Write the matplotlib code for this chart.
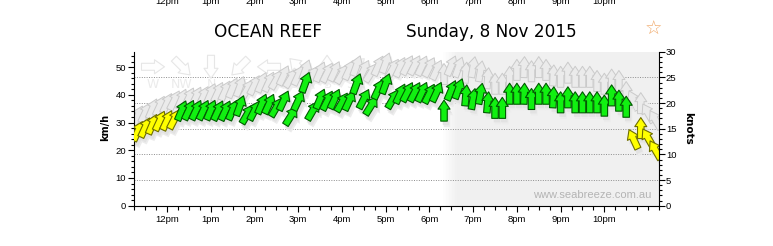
import numpy as np
import matplotlib
matplotlib.use('Agg')
from matplotlib import pyplot as plt
from matplotlib.collections import PolyCollection
from matplotlib.transforms import IdentityTransform, blended_transform_factory
from matplotlib.ticker import MultipleLocator

# observations, every 10 minutes (local time)
times = ['11:20', '11:30', '11:40', '11:50', '12:00', '12:10',
         '12:20', '12:30', '12:40', '12:50', '13:00', '13:10',
         '13:20', '13:30', '13:40', '13:50', '14:00', '14:10',
         '14:20', '14:30', '14:40', '14:50', '15:00', '15:10',
         '15:20', '15:30', '15:40', '15:50', '16:00', '16:10',
         '16:20', '16:30', '16:40', '16:50', '17:00', '17:10',
         '17:20', '17:30', '17:40', '17:50', '18:00', '18:10',
         '18:20', '18:30', '18:40', '18:50', '19:00', '19:10',
         '19:20', '19:30', '19:40', '19:50', '20:00', '20:10',
         '20:20', '20:30', '20:40', '20:50', '21:00', '21:10',
         '21:20', '21:30', '21:40', '21:50', '22:00', '22:10',
         '22:20', '22:30', '22:40', '22:50', '23:00', '23:10']

# average wind, km/h
speed = [26.9, 28.2, 29.4, 30.6, 30.8, 31.2,
         34.3, 34.5, 34.5, 34.5, 34.5, 34.3,
         34.3, 34.5, 36.1, 33.0, 34.3, 36.7,
         36.7, 35.5, 37.9, 32.4, 37.9, 44.5,
         34.3, 38.5, 37.9, 38.5, 37.3, 37.9,
         44.0, 38.5, 36.1, 42.0, 44.0, 38.5,
         40.4, 41.0, 41.0, 41.0, 40.4, 41.0,
         34.3, 41.6, 42.2, 39.8, 38.5, 40.4,
         37.3, 35.3, 35.3, 40.4, 40.4, 40.4,
         38.5, 40.4, 40.4, 39.1, 37.3, 39.1,
         37.3, 37.3, 37.3, 37.3, 36.1, 39.8,
         37.9, 35.7, 24.0, 28.0, 24.4, 20.1]

# gusts, km/h
gust = [32.5, 33.5, 35.0, 36.0, 37.0, 38.0,
        38.5, 39.0, 39.3, 39.5, 40.5, 41.0,
        41.5, 42.5, 43.0, 42.0, 43.5, 44.5,
        44.7, 45.5, 47.0, 46.0, 47.0, 49.0,
        47.0, 48.3, 48.0, 48.5, 47.5, 49.0,
        50.5, 49.0, 48.0, 50.5, 51.5, 49.5,
        50.0, 50.7, 50.7, 50.5, 50.0, 49.0,
        47.5, 50.5, 50.0, 48.0, 50.0, 48.5,
        46.0, 44.0, 44.0, 46.5, 49.0, 50.0,
        48.5, 50.0, 49.0, 47.0, 46.5, 48.0,
        46.5, 46.5, 46.5, 45.0, 44.0, 45.5,
        45.0, 41.0, 38.0, 37.0, 33.4, 31.0]

# direction the wind comes from, degrees
direction = [205, 205, 203, 205, 205, 207,
             203, 205, 205, 205, 203, 205,
             205, 203, 200, 210, 207, 203,
             205, 210, 205, 212, 205, 200,
             210, 203, 207, 205, 210, 205,
             200, 207, 212, 205, 200, 210,
             205, 207, 207, 205, 207, 205,
             180, 203, 200, 185, 190, 190,
             185, 180, 180, 180, 180, 182,
             180, 180, 180, 183, 180, 180,
             180, 180, 180, 180, 180, 180,
             180, 180, 155, 180, 150, 150]

hour_ticks = [12, 13, 14, 15, 16, 17, 18, 19, 20, 21, 22]
hour_labels = ['12pm', '1pm', '2pm', '3pm', '4pm', '5pm', '6pm', '7pm', '8pm', '9pm', '10pm']
knot_ticks = [0, 5, 10, 15, 20, 25, 30]
compass = ['W', 'NW', 'N', 'NE', 'E', 'SE', 'S', 'SW']
compass_from = [270, 315, 0, 45, 90, 135, 180, 225]
sunset = 18.62
KMH_PER_KNOT = 1.852

hours = np.array([int(t[:2]) + int(t[3:]) / 60.0 for t in times])
speed = np.array(speed)
gust = np.array(gust)
towards = (np.array(direction) + 180) % 360


def arrow_verts(bearing, length=21, head_w=12, shaft_w=6.5, head_l=9):
    # block arrow in pixels, centred on 0,0, pointing at bearing (deg from north)
    h = length / 2.0
    pts = np.array([[0, h], [head_w / 2, h - head_l], [shaft_w / 2, h - head_l],
                    [shaft_w / 2, -h], [-shaft_w / 2, -h], [-shaft_w / 2, h - head_l],
                    [-head_w / 2, h - head_l]])
    a = np.radians(bearing)
    rot = np.array([[np.cos(a), np.sin(a)], [-np.sin(a), np.cos(a)]])
    return pts @ rot.T


def draw_arrows(ax, xs, ys, bearings, fc, ec, lw=0.8, dx=0, dy=0, zorder=3,
                transform=None, **kw):
    verts = [arrow_verts(b, **kw) + [dx, dy] for b in bearings]
    pc = PolyCollection(verts, offsets=np.column_stack([xs, ys]),
                        offset_transform=transform if transform is not None else ax.transData,
                        facecolors=fc, edgecolors=ec, linewidths=lw, zorder=zorder)
    pc.set_transform(IdentityTransform())
    ax.add_collection(pc)
    return pc


fig = plt.figure(figsize=(7.73, 2.46), dpi=100)
ax = fig.add_axes([134.3 / 773, 40.3 / 246, 524.7 / 773, 154.0 / 246])
ax.set_xlim(11.25, 23.25)
ax.set_ylim(0, 30 * KMH_PER_KNOT)

# night shading with a soft edge
ax.axvspan(sunset, 23.25, color='#f0f0f0', lw=0, zorder=0)
edge = np.linspace(sunset - 0.3, sunset, 10)
for i in range(len(edge) - 1):
    ax.axvspan(edge[i], edge[i + 1], color='#f0f0f0', alpha=(i + 1) / 10.0, lw=0, zorder=0)

for k in knot_ticks[1:-1]:
    ax.axhline(k * KMH_PER_KNOT, color='#8c8c8c', ls=(0, (1, 1.5)), lw=0.7, zorder=1)

# faint direction key
key_x = 0.0356 + 0.0553 * np.arange(len(compass))
draw_arrows(ax, key_x, np.full(len(compass), 0.902), (np.array(compass_from) + 180) % 360,
            '#fefefe', '#e6e6e6', lw=0.8, zorder=1.5, transform=ax.transAxes,
            length=23, head_w=14, shaft_w=7, head_l=10)
for x, lab in zip(key_x, compass):
    ax.text(x, 0.79, lab, transform=ax.transAxes, ha='center', va='center',
            fontsize=9, color='#ebebeb', zorder=1.5)

# gusts (grey) behind the averages
draw_arrows(ax, hours, gust, towards, '#eeeeee', 'none', lw=0, dx=2, dy=-3, zorder=1.8)
draw_arrows(ax, hours, gust, towards, '#ebebeb', '#cacaca', lw=0.7, zorder=2)

cols = np.where(speed < 32, '#ffff00', '#11f011')
edges = np.where(speed < 32, '#6e6e00', '#005a00')
draw_arrows(ax, hours, speed, towards, '#ececec', 'none', lw=0, dx=3, dy=-6, zorder=2.4)
draw_arrows(ax, hours, speed, towards, '#e2e2e2', 'none', lw=0, dx=2, dy=-4, zorder=2.5)
draw_arrows(ax, hours, speed, towards, cols, edges, lw=0.8, zorder=3)

tick_font = dict(family='Liberation Sans', size=6.8)
ax.set_xticks(hour_ticks)
ax.set_xticklabels(hour_labels, **tick_font)
ax.xaxis.set_minor_locator(MultipleLocator(0.25))
ax.yaxis.set_major_locator(MultipleLocator(10))
ax.yaxis.set_minor_locator(MultipleLocator(2))
for lab in ax.get_yticklabels():
    lab.set_fontfamily('Liberation Sans')
    lab.set_fontsize(6.8)
ax.tick_params(axis='x', which='major', direction='out', length=4, width=0.8, pad=2.5)
ax.tick_params(axis='x', which='minor', direction='out', length=3, width=0.8)
ax.tick_params(axis='y', which='major', direction='out', length=4, width=0.8, pad=2)
ax.tick_params(axis='y', which='minor', direction='out', length=2.5, width=0.8)
ax.spines['top'].set_visible(False)
ax.spines['right'].set_visible(False)

ax2 = ax.twinx()
ax2.set_ylim(0, 30)
ax2.set_yticks(knot_ticks)
ax2.set_yticklabels([str(k) for k in knot_ticks], **tick_font)
ax2.yaxis.set_minor_locator(MultipleLocator(1))
ax2.tick_params(axis='y', which='major', direction='out', length=4, width=0.8, pad=1)
ax2.tick_params(axis='y', which='minor', direction='out', length=2.5, width=0.8)
for s in ['top', 'left', 'bottom']:
    ax2.spines[s].set_visible(False)

ax.text(0.985, 0.07, 'www.seabreeze.com.au', transform=ax.transAxes, ha='right', va='center',
        family='Liberation Sans', fontsize=8, color='#b4b4b4', zorder=4)

fig.text(267.5 / 773, 1 - 31.7 / 246, 'OCEAN REEF', ha='center', va='center', fontsize=12.2)
fig.text(491.3 / 773, 1 - 31.7 / 246, 'Sunday, 8 Nov 2015', ha='center', va='center', fontsize=12.2)
fig.text(653.3 / 773, 1 - 29.5 / 246, '\u2606', ha='center', va='center', fontsize=14,
         color='#f0a868')
fig.text(105 / 773, 1 - 127 / 246, 'km/h', rotation=90, ha='center', va='center',
         fontsize=7, fontweight='bold')
fig.text(688 / 773, 1 - 128 / 246, 'knots', rotation=-90, ha='center', va='center',
         fontsize=7.5, fontweight='bold')

# hour labels of the chart above, cut off by the top edge (as in the source)
top = blended_transform_factory(ax.transData, fig.transFigure)
for h, lab in zip(hour_ticks, hour_labels):
    ax.text(h, 1 - 4 / 246, lab, transform=top, ha='center', va='baseline',
            clip_on=False, **tick_font)

fig.savefig('out.png', dpi=100)
